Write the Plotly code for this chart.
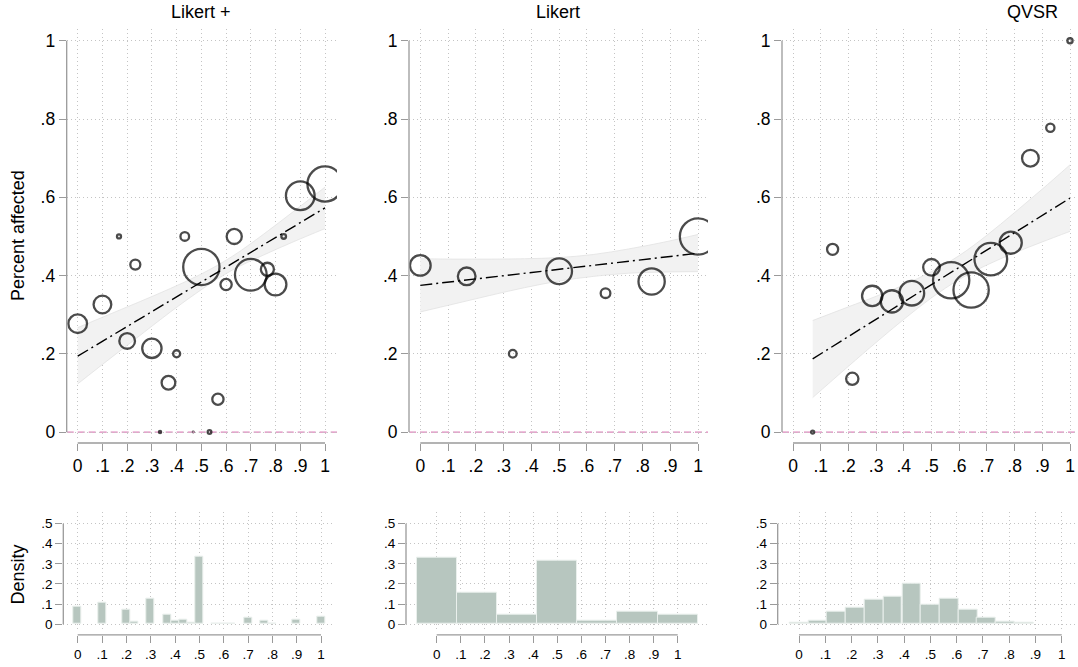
import numpy as np
import plotly.graph_objects as go

W, H = 1078, 667

# ------------------------------------------------------------------ data
panel_titles = ["Likert +", "Likert", "QVSR"]

x_tickvals = [0, .1, .2, .3, .4, .5, .6, .7, .8, .9, 1]
x_ticktext = ["0", ".1", ".2", ".3", ".4", ".5", ".6", ".7", ".8", ".9", "1"]
y_tickvals = [0, .2, .4, .6, .8, 1]
y_ticktext = ["0", ".2", ".4", ".6", ".8", "1"]
d_tickvals = [0, .1, .2, .3, .4, .5]
d_ticktext = ["0", ".1", ".2", ".3", ".4", ".5"]

# Likert + : bubbles (x, percent affected, weight)
likp_x = [0, .1, .167, .2, .233, .3, .333, .367, .4, .433, .467, .5, .533,
          .567, .6, .633, .7, .767, .8, .833, .9, 1]
likp_y = [0.277, 0.326, 0.500, 0.233, 0.428, 0.214, 0.0, 0.126, 0.200, 0.500,
          0.0, 0.422, 0.0, 0.084, 0.377, 0.500, 0.402, 0.416, 0.377, 0.500,
          0.604, 0.634]
likp_w = [110, 100, 10, 81, 38, 117, 5, 64, 22, 30, 2, 372, 9, 46, 46, 76,
          289, 59, 144, 12, 240, 350]
likp_fit_x = [0, 1]
likp_fit_y = [0.194, 0.573]
likp_ci_x = [0, .125, .25, .375, .5, .625, .75, .875, 1]
likp_ci_lo = [0.123, 0.185, 0.246, 0.307, 0.364, 0.414, 0.452, 0.487, 0.520]
likp_ci_hi = [0.267, 0.300, 0.333, 0.367, 0.404, 0.449, 0.505, 0.565, 0.626]

# Likert
lik_x = [0, .167, .333, .5, .667, .833, 1]
lik_y = [0.426, 0.398, 0.200, 0.411, 0.355, 0.385, 0.500]
lik_w = [132, 100, 25, 196, 36, 204, 372]
lik_fit_x = [0, 1]
lik_fit_y = [0.375, 0.457]
lik_ci_x = [0, .125, .25, .375, .5, .625, .75, .875, 1]
lik_ci_lo = [0.307, 0.328, 0.349, 0.369, 0.386, 0.398, 0.406, 0.409, 0.410]
lik_ci_hi = [0.443, 0.442, 0.442, 0.443, 0.446, 0.454, 0.468, 0.485, 0.505]

# QVSR
qv_x = [.071, .143, .214, .286, .357, .429, .5, .571, .643, .714, .786, .857,
        .929, 1]
qv_y = [0.0, 0.467, 0.136, 0.348, 0.334, 0.355, 0.421, 0.388, 0.363, 0.442,
        0.484, 0.700, 0.778, 1.0]
qv_w = [7, 45, 53, 128, 151, 182, 90, 372, 353, 306, 149, 90, 28, 14]
qv_fit_x = [0.071, 1]
qv_fit_y = [0.187, 0.598]
qv_ci_x = [.071, .2, .3, .4, .5, .6, .7, .8, .9, 1]
qv_ci_lo = [0.088, 0.168, 0.229, 0.288, 0.343, 0.390, 0.427, 0.458, 0.486, 0.513]
qv_ci_hi = [0.285, 0.320, 0.347, 0.376, 0.410, 0.451, 0.503, 0.561, 0.621, 0.683]

# Histograms (density)
h1_x = [0, .1, .2, .233, .3, .367, .4, .433, .467, .5, .567, .6, .633, .7,
        .767, .8, .9, 1]
h1_d = [0.088, 0.105, 0.072, 0.012, 0.127, 0.045, 0.017, 0.023, 0.008, 0.337,
        0.003, 0.003, 0.002, 0.030, 0.017, 0.003, 0.022, 0.035]
h1_bin = 1 / 30

h2_x = [0, .167, .333, .5, .667, .833, 1]
h2_d = [0.332, 0.158, 0.046, 0.314, 0.018, 0.060, 0.046]
h2_bin = 1 / 6

h3_x = [0, .071, .143, .214, .286, .357, .429, .5, .571, .643, .714, .786, .857]
h3_d = [0.007, 0.015, 0.063, 0.081, 0.124, 0.135, 0.200, 0.096, 0.125, 0.071,
        0.031, 0.013, 0.006]
h3_bin = 1 / 14

# ------------------------------------------------------------------ style
FONT = "Liberation Sans, Arial, Helvetica, sans-serif"
AXIS_COL = "#9a9a9a"
GRID_COL = "#c4c4c4"
BAR_FILL = "#b7c6bf"
BAR_LINE = "#e9efec"
BAND_FILL = "#f2f2f2"
BAND_LINE = "#e2e2e2"
PINK = "#dc86bb"
LW = 2.3

# pixel geometry: (left, right, px of x=0, px of x=1)
top_geo = [(66.7, 337, 77.7, 325.0), (409, 708, 420.3, 698.0),
           (782, 1078, 793, 1070)]
hist_geo = [(63.3, 333, 77.7, 321.0), (406, 708, 436.7, 677.7),
            (777.7, 1078, 799, 1061.7)]
top_y = (29.2, 441.9, 434.0, 41.0)     # top px, bottom px, px of 0, px of 1
hist_y = (514.0, 632.0, 627.0, 526.0)  # top px, bottom px, px of 0, px of .5
top_xaxis_px = 445.0
hist_xaxis_px = 637.7

fig = go.Figure()


def xaxis_cfg(geo, axis_px, fsize):
    left, right, p0, p1 = geo
    s = p1 - p0
    return dict(domain=[left / W, right / W],
                range=[(left - p0) / s, (right - p0) / s],
                anchor="free", position=1 - axis_px / H,
                showline=False, zeroline=False,
                ticks="outside", ticklen=7, tickwidth=1, tickcolor=AXIS_COL,
                tickvals=x_tickvals, ticktext=x_ticktext,
                tickfont=dict(size=fsize, color="black", family=FONT),
                showgrid=True, gridcolor=GRID_COL, gridwidth=1,
                griddash="1px,3px", fixedrange=True)


def yaxis_cfg(ygeo, vmax, tv, tt, fsize, anchor):
    top, bot, p0, pm = ygeo
    s = (p0 - pm) / vmax
    return dict(domain=[1 - bot / H, 1 - top / H],
                range=[(p0 - bot) / s, (p0 - top) / s],
                anchor=anchor, showline=False, zeroline=False,
                ticks="outside", ticklen=7, tickwidth=1, tickcolor=AXIS_COL,
                tickvals=tv, ticktext=tt,
                tickfont=dict(size=fsize, color="black", family=FONT),
                showgrid=True, gridcolor=GRID_COL, gridwidth=1,
                griddash="1px,3px", fixedrange=True)


layout_axes = {}
shapes = []

top_data = [
    (likp_x, likp_y, likp_w, likp_fit_x, likp_fit_y, likp_ci_x, likp_ci_lo, likp_ci_hi),
    (lik_x, lik_y, lik_w, lik_fit_x, lik_fit_y, lik_ci_x, lik_ci_lo, lik_ci_hi),
    (qv_x, qv_y, qv_w, qv_fit_x, qv_fit_y, qv_ci_x, qv_ci_lo, qv_ci_hi),
]
hist_data = [(h1_x, h1_d, h1_bin), (h2_x, h2_d, h2_bin), (h3_x, h3_d, h3_bin)]

for i in range(3):
    n = i + 1
    xs = "x" if n == 1 else f"x{n}"
    ys = "y" if n == 1 else f"y{n}"
    xname = "xaxis" if n == 1 else f"xaxis{n}"
    yname = "yaxis" if n == 1 else f"yaxis{n}"
    layout_axes[xname] = xaxis_cfg(top_geo[i], top_xaxis_px, 17.5)
    layout_axes[yname] = yaxis_cfg(top_y, 1.0, y_tickvals, y_ticktext, 17.5, xs)

    px_, py_, pw_, fx, fy, cx, clo, chi = top_data[i]
    fig.add_trace(go.Scatter(x=cx, y=clo, mode="lines", xaxis=xs, yaxis=ys,
                             line=dict(color=BAND_LINE, width=0.8, shape="spline"),
                             hoverinfo="skip"))
    fig.add_trace(go.Scatter(x=cx, y=chi, mode="lines", xaxis=xs, yaxis=ys,
                             fill="tonexty", fillcolor=BAND_FILL,
                             line=dict(color=BAND_LINE, width=0.8, shape="spline"),
                             hoverinfo="skip"))
    fig.add_trace(go.Scatter(x=fx, y=fy, mode="lines", xaxis=xs, yaxis=ys,
                             line=dict(color="black", width=1.4,
                                       dash="12px,4px,2px,4px"),
                             hoverinfo="skip"))
    sizes = np.maximum(2 * np.sqrt(np.array(pw_, dtype=float)) - LW, 0.6)
    fig.add_trace(go.Scatter(x=px_, y=py_, mode="markers", xaxis=xs, yaxis=ys,
                             marker=dict(symbol="circle", size=sizes,
                                         color="rgba(0,0,0,0)",
                                         line=dict(color="black", width=LW))))

    # axis lines (only between end ticks) and y=0 reference line
    shapes.append(dict(type="line", xref=f"{xs} domain", yref=ys, x0=0, x1=0,
                       y0=0, y1=1, line=dict(color=AXIS_COL, width=1.3)))
    shapes.append(dict(type="line", xref=xs, yref="paper", x0=0, x1=1,
                       y0=1 - top_xaxis_px / H, y1=1 - top_xaxis_px / H,
                       line=dict(color=AXIS_COL, width=1.3)))
    shapes.append(dict(type="line", xref=f"{xs} domain", yref=ys, x0=0, x1=1,
                       y0=0, y1=0, layer="below",
                       line=dict(color=PINK, width=1.3, dash="7px,4px")))

    # histogram panels
    m = n + 3
    hxs, hys = f"x{m}", f"y{m}"
    layout_axes[f"xaxis{m}"] = xaxis_cfg(hist_geo[i], hist_xaxis_px, 13.5)
    layout_axes[f"yaxis{m}"] = yaxis_cfg(hist_y, 0.5, d_tickvals, d_ticktext, 13.5, hxs)
    hx, hd, hb = hist_data[i]
    fig.add_trace(go.Bar(x=hx, y=hd, width=hb, xaxis=hxs, yaxis=hys,
                         marker=dict(color=BAR_FILL,
                                     line=dict(color=BAR_LINE, width=1)),
                         hoverinfo="skip"))
    shapes.append(dict(type="line", xref=f"{hxs} domain", yref=hys, x0=0, x1=0,
                       y0=0, y1=0.5, line=dict(color=AXIS_COL, width=1.3)))
    shapes.append(dict(type="line", xref=hxs, yref="paper", x0=0, x1=1,
                       y0=1 - hist_xaxis_px / H, y1=1 - hist_xaxis_px / H,
                       line=dict(color=AXIS_COL, width=1.3)))

annotations = []
title_pos = [(201, 12), (558, 12), (1032, 12)]
for t, (ax_, ay_) in zip(panel_titles, title_pos):
    annotations.append(dict(text=t, x=ax_ / W, y=1 - ay_ / H, xref="paper",
                            yref="paper", showarrow=False,
                            font=dict(size=18, color="black", family=FONT),
                            xanchor="center", yanchor="middle"))
annotations.append(dict(text="Percent affected", x=18 / W, y=1 - 237 / H,
                        xref="paper", yref="paper", showarrow=False, textangle=-90,
                        font=dict(size=18, color="black", family=FONT),
                        xanchor="center", yanchor="middle"))
annotations.append(dict(text="Density", x=18 / W, y=1 - 577 / H,
                        xref="paper", yref="paper", showarrow=False, textangle=-90,
                        font=dict(size=18, color="black", family=FONT),
                        xanchor="center", yanchor="middle"))

fig.update_layout(width=W, height=H, margin=dict(l=0, r=0, t=0, b=0),
                  paper_bgcolor="white", plot_bgcolor="white",
                  showlegend=False, bargap=0, hovermode=False,
                  font=dict(family=FONT, color="black"),
                  shapes=shapes, annotations=annotations, **layout_axes)

fig.write_html("out.html")
